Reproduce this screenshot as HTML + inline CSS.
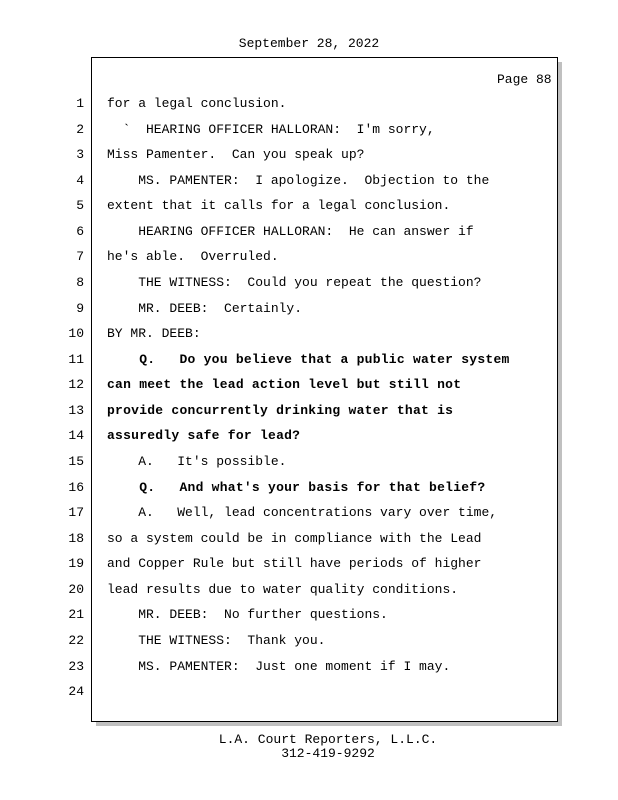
<!DOCTYPE html>
<html><head><meta charset="utf-8"><style>
html,body{margin:0;padding:0;background:#fff;}
body{width:618px;height:800px;position:relative;overflow:hidden;font-family:"Liberation Mono",monospace;font-size:13px;color:#000;}
.t{position:absolute;white-space:pre;line-height:16px;}
.n{position:absolute;width:30px;text-align:right;left:54px;line-height:16px;}
.b{font-weight:bold;}
#shadow{position:absolute;left:96px;top:62px;width:466px;height:664px;background:#c0c0c0;}
#box{position:absolute;left:91px;top:57px;width:465px;height:663px;border:1.5px solid #000;background:#fff;}
</style></head><body>
<div class="t" style="left:0;width:618px;text-align:center;top:36px;">September 28, 2022</div>
<div id="shadow"></div>
<div id="box"></div>
<div class="t" style="left:497px;top:72px;">Page 88</div>
<div id="lines"></div>
<div class="t" style="left:0;width:656px;text-align:center;top:733px;line-height:14px;">L.A. Court Reporters, L.L.C.
312-419-9292</div>
<script>
var L=[
["for a legal conclusion.",0],
["  `  HEARING OFFICER HALLORAN:  I'm sorry,",0],
["Miss Pamenter.  Can you speak up?",0],
["    MS. PAMENTER:  I apologize.  Objection to the",0],
["extent that it calls for a legal conclusion.",0],
["    HEARING OFFICER HALLORAN:  He can answer if",0],
["he's able.  Overruled.",0],
["    THE WITNESS:  Could you repeat the question?",0],
["    MR. DEEB:  Certainly.",0],
["BY MR. DEEB:",0],
["    Q.   Do you believe that a public water system",1],
["can meet the lead action level but still not",1],
["provide concurrently drinking water that is",1],
["assuredly safe for lead?",1],
["    A.   It's possible.",0],
["    Q.   And what's your basis for that belief?",1],
["    A.   Well, lead concentrations vary over time,",0],
["so a system could be in compliance with the Lead",0],
["and Copper Rule but still have periods of higher",0],
["lead results due to water quality conditions.",0],
["    MR. DEEB:  No further questions.",0],
["    THE WITNESS:  Thank you.",0],
["    MS. PAMENTER:  Just one moment if I may.",0],
["",0]];
var h="";
for(var i=0;i<24;i++){var y=Math.round(103+i*25.57-7);
h+='<div class="n" style="top:'+y+'px">'+(i+1)+'</div>';
var s=L[i][0].replace(/&/g,"&amp;").replace(/</g,"&lt;");
h+='<div class="t'+(L[i][1]?' b':'')+'" style="left:107px;top:'+y+'px;'+(L[i][1]?'letter-spacing:0.25px;':'')+'">'+s+'</div>';}
document.getElementById("lines").innerHTML=h;
</script>
</body></html>
